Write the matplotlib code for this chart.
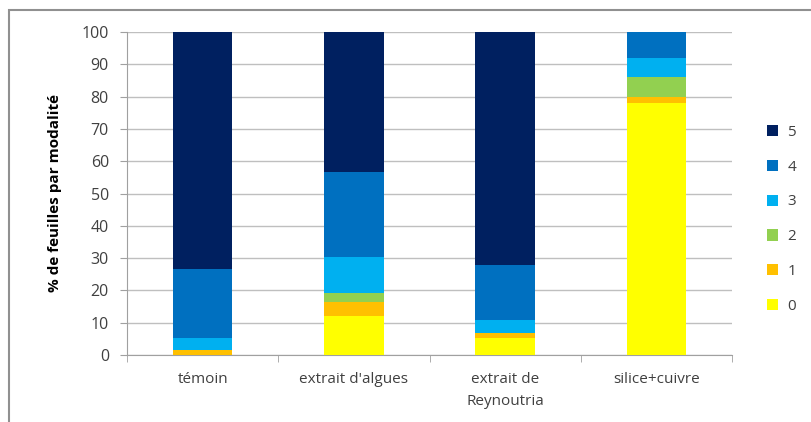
import numpy as np
import matplotlib.pyplot as plt
from matplotlib.patches import Rectangle

# donnees (% de feuilles par classe de notation)
modalites = ["témoin", "extrait d'algues", "extrait de\nReynoutria", "silice+cuivre"]
classes = ["0", "1", "2", "3", "4", "5"]
classe_0 = [0.0, 12.1, 5.2, 77.9]
classe_1 = [1.5, 4.4, 1.5, 2.1]
classe_2 = [0.0, 2.6, 0.0, 6.0]
classe_3 = [3.7, 11.1, 4.1, 5.8]
classe_4 = [21.3, 26.5, 17.1, 8.2]
classe_5 = [73.5, 43.3, 72.1, 0.0]
couleurs = ["#FFFF00", "#FFC000", "#92D050", "#00B0F0", "#0070C0", "#002060"]

series = [classe_0, classe_1, classe_2, classe_3, classe_4, classe_5]

plt.rcParams['font.family'] = ['Open Sans', 'DejaVu Sans']

fig = plt.figure(figsize=(8.11, 4.22), dpi=100)
ax = fig.add_axes([127 / 811, 67 / 422, 605 / 811, 323 / 422])

x = np.arange(len(modalites))
bas = np.zeros(len(modalites))
barres = []
for vals, coul, lab in zip(series, couleurs, classes):
    b = ax.bar(x, vals, width=0.395, bottom=bas, color=coul, label=lab, zorder=3)
    barres.append(b)
    bas += np.array(vals)

ax.set_xlim(-0.5, 3.5)
ax.set_ylim(0, 100)
ax.set_yticks(range(0, 101, 10))
ax.yaxis.grid(True, color="#BFBFBF", lw=1, zorder=0)

ax.set_xticks(x)
ax.set_xticklabels(modalites, fontsize=11, color="#404040", linespacing=1.7)
ax.set_xticks(np.arange(-0.5, 4, 1), minor=True)
ax.tick_params(axis="x", which="major", length=0, pad=12)
ax.tick_params(axis="x", which="minor", length=5, color="#A0A0A0", direction="out")
ax.tick_params(axis="y", length=5, color="#A0A0A0", labelsize=11.5, labelcolor="#404040", pad=8)

for s in ["top", "right"]:
    ax.spines[s].set_visible(False)
for s in ["left", "bottom"]:
    ax.spines[s].set_color("#A0A0A0")

ax.set_ylabel("% de feuilles par modalité", fontsize=11, fontweight="bold", labelpad=14)

handles = barres[::-1]
fig.legend(handles, classes[::-1], loc="upper left", bbox_to_anchor=(753 / 811, 1 - 111 / 422),
           frameon=False, fontsize=11, handlelength=0.75, handleheight=0.75,
           handletextpad=0.6, labelspacing=1.3, labelcolor="#404040")

fig.add_artist(Rectangle((9 / 811, -0.1), 1.2, 1.1 - 10.5 / 422, transform=fig.transFigure,
                         fill=False, edgecolor="#909090", lw=1.5))

fig.savefig("out.png", dpi=100)
